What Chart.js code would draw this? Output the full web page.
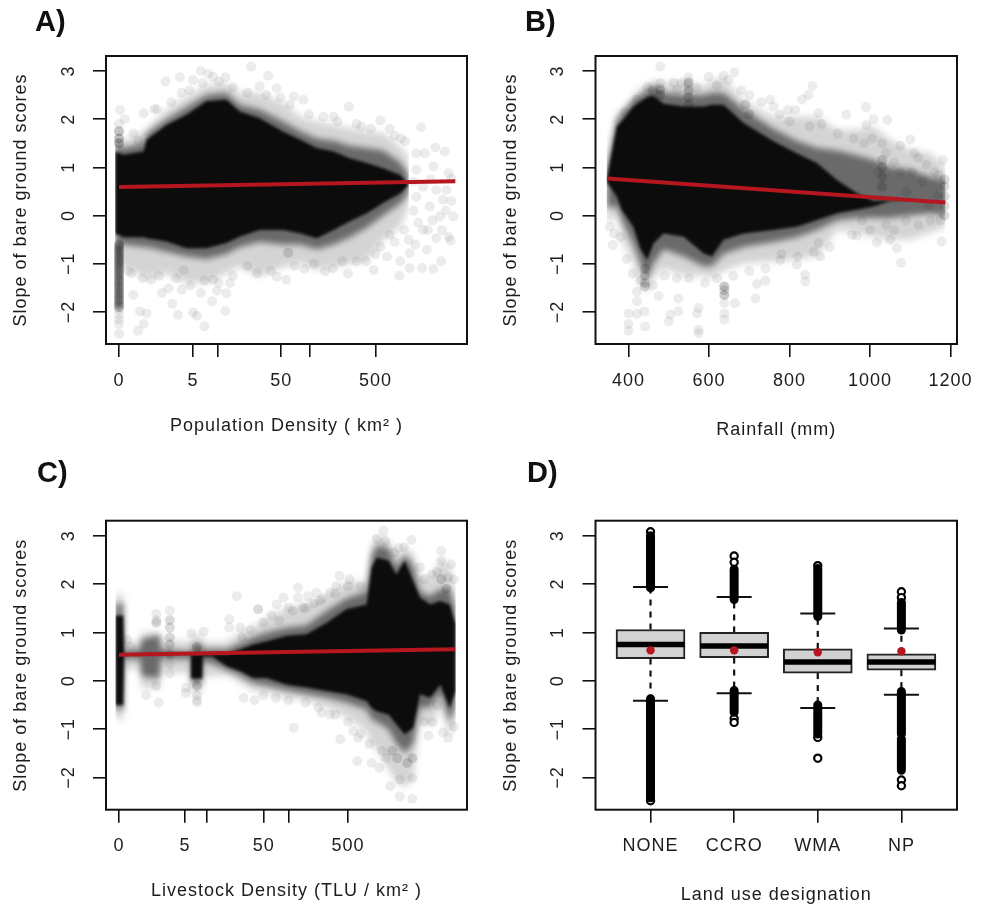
<!DOCTYPE html>
<html>
<head>
<meta charset="utf-8">
<script src="https://cdn.jsdelivr.net/npm/chart.js@4/dist/chart.umd.min.js"></script>
<style>
  html, body { margin: 0; padding: 0; background: #fff; }
  #page { position: relative; width: 981px; height: 908px; overflow: hidden; }
  canvas { position: absolute; filter: blur(0.45px); }
  .tag { position: absolute; font: bold 29px/29px "Liberation Sans", sans-serif; color: #111; }
</style>
</head>
<body>
<div id="page">
  <canvas id="chartA" width="490" height="458" style="left:0;top:0"></canvas>
  <canvas id="chartB" width="491" height="458" style="left:490px;top:0"></canvas>
  <canvas id="chartC" width="490" height="450" style="left:0;top:458px"></canvas>
  <canvas id="chartD" width="491" height="450" style="left:490px;top:458px"></canvas>
  <div class="tag" style="left:35px;top:7px">A)</div>
  <div class="tag" style="left:525px;top:7px">B)</div>
  <div class="tag" style="left:37px;top:458px">C)</div>
  <div class="tag" style="left:527px;top:458px">D)</div>
</div>
<script>
const yTitle = "Slope of bare ground scores";
const yTicks = [-2, -1, 0, 1, 2, 3];

// x axes of A and C are log10(density + 1)
const logTicks = [0, 0.778, 1.041, 1.708, 2.004, 2.7];
const logLabels = ["0", "5", "", "50", "", "500"];

// A: population density
const aGrid = [-0.04, 0.05, 0.26, 0.29, 0.5, 0.71, 0.92, 1.13, 1.27, 1.48, 1.73, 1.91, 2.08, 2.26, 2.43, 2.61, 2.78, 2.96, 3.05];
const aCoreHi = [1.33, 1.26, 1.33, 1.57, 1.88, 2.09, 2.37, 2.4, 2.16, 2.02, 1.74, 1.57, 1.4, 1.33, 1.19, 1.09, 0.98, 0.84, 0.64];
const aCoreLo = [-0.37, -0.45, -0.45, -0.47, -0.54, -0.68, -0.68, -0.57, -0.44, -0.3, -0.3, -0.37, -0.47, -0.3, -0.12, 0.05, 0.26, 0.46, 0.64];
const aMidHi = [1.5, 1.4, 1.5, 1.7, 2.0, 2.25, 2.5, 2.55, 2.3, 2.2, 1.95, 1.75, 1.6, 1.55, 1.45, 1.4, 1.35, 1.1, 0.85];
const aMidLo = [-0.6, -0.6, -0.65, -0.65, -0.75, -0.85, -0.9, -0.8, -0.65, -0.55, -0.6, -0.6, -0.7, -0.6, -0.45, -0.25, 0.0, 0.25, 0.45];
const aHazeHi = [1.7, 1.55, 1.74, 1.81, 2.2, 2.47, 2.71, 2.75, 2.54, 2.54, 2.33, 2.05, 1.95, 1.88, 1.81, 1.74, 1.71, 1.43, 1.22];
const aHazeLo = [-1.06, -1.06, -1.27, -1.3, -1.2, -1.4, -1.4, -1.2, -1.06, -1.27, -1.06, -0.99, -1.13, -1.06, -1.0, -0.92, -0.5, -0.23, 0.19];
const aDark = [[0, -0.6], [0, -0.65], [0, -0.7], [0, -0.75], [0, -0.8], [0, -0.85], [0, -0.9], [0, -0.95], [0, -1.0], [0, -1.05], [0, -1.1], [0, -1.15], [0, -1.2], [0, -1.25], [0, -1.3], [0, -1.35], [0, -1.4], [0, -1.45], [0, -1.5], [0, -1.55], [0, -1.6], [0, -1.65], [0, -1.7], [0, -1.75], [0, -1.8], [0, -1.85], [0, -1.9], [0, 1.5], [0, 1.6], [0, 1.75]];
const aFaint = [[0, -1.95], [0, -2.05], [0, -2.15], [0, -2.25], [0, -2.45], [0, 1.9], [1.39, 3.09], [0.86, 3.0], [0.94, 2.94], [0.99, 2.88], [1.12, 2.87], [1.57, 2.9], [0.64, 2.87], [0.49, 2.78], [0.78, 2.81], [1.48, 2.69], [1.66, 2.64], [1.84, 2.47], [1.94, 2.4], [2.42, 2.26], [3.18, 1.83], [3.33, 1.41], [3.43, 1.33], [3.13, 1.29], [3.22, 1.29], [3.01, 1.54], [2.75, 1.97], [2.55, 1.85], [2.26, 2.05], [0.01, 2.19], [0.06, 2.0], [0.37, 2.21], [0.26, 2.12], [3.47, 0.88], [3.5, 0.77], [3.31, 1.02], [3.13, 0.95], [3.34, 0.53], [3.45, 0.53], [3.52, -0.02], [3.41, 0.33], [3.27, 0.19], [3.13, 0.39], [3.38, -0.02], [3.2, -0.3], [3.47, -0.44], [3.49, -0.52], [3.34, -0.47], [3.24, -0.71], [3.39, -0.95], [3.31, -1.11], [3.19, -1.09], [3.06, -1.09], [2.95, -1.25], [3.06, -0.78], [2.96, -0.95], [2.85, -0.4], [2.82, -0.85], [2.68, -1.13], [2.41, -1.2], [2.17, -1.16], [1.95, -1.11], [1.76, -1.33], [1.66, -1.27], [1.78, -0.78], [1.78, -0.76], [1.17, -1.4], [1.12, -1.98], [0.98, -1.78], [0.9, -2.3], [0.82, -2.08], [0.78, -2.01], [0.62, -2.06], [0.56, -1.83], [0.86, -1.6], [0.15, -1.65], [0.22, -1.99], [0.29, -2.03], [0.26, -2.25], [0.2, -2.39], [0.45, -1.6], [0.52, -1.51], [0.66, -1.54], [1.03, -1.56], [1.13, -1.61], [0.99, -1.33], [0.34, -1.33], [0.13, -1.2], [0.68, -1.13], [3.1, 0.1], [3.2, 0.6], [3.28, 0.75], [3.1, 0.7], [3.15, -0.15], [3.3, -0.1], [3.05, -0.5], [3.0, -0.3], [3.12, -0.6], [3.25, -0.3], [3.4, -0.3], [3.44, 0.1], [3.5, 0.3], [2.9, -0.55], [2.75, -0.65], [2.6, -0.95], [0.4, 2.2], [0.55, 2.35], [0.66, 2.55], [0.74, 2.6], [0.88, 2.75], [1.05, 2.78], [1.2, 2.65], [1.35, 2.55], [1.55, 2.5], [1.7, 2.45], [1.8, 2.3], [2.0, 2.1], [2.15, 2.05], [2.3, 1.95], [2.5, 1.9], [2.65, 1.8], [2.85, 1.8], [2.9, 1.65], [2.97, 1.6], [0.15, 1.7], [0.2, 1.55], [0.1, -1.15], [0.25, -1.3], [0.42, -1.25], [0.6, -1.3], [0.75, -1.45], [0.9, -1.35], [1.05, -1.4], [1.2, -1.25], [1.35, -1.05], [1.45, -1.2], [1.6, -1.15], [1.85, -1.05], [2.05, -1.0], [2.25, -1.1], [2.35, -0.95], [2.5, -0.95], [2.7, -0.8]];
const aFitX = [0, 3.54];
const aFitY = [0.59, 0.71];

// B: rainfall
const bGrid = [346, 371, 383, 412, 429, 446, 462, 487, 537, 586, 607, 636, 686, 760, 818, 868, 918, 967, 1009, 1050, 1100, 1150, 1187];
const bCoreHi = [0.75, 1.85, 1.95, 2.26, 2.36, 2.46, 2.49, 2.32, 2.26, 2.26, 2.3, 2.3, 1.92, 1.54, 1.29, 1.09, 0.74, 0.46, 0.3, 0.32, 0.3, 0.28, 0.27];
const bCoreLo = [0.7, 0.39, 0.12, -0.23, -0.68, -0.92, -0.58, -0.37, -0.44, -0.78, -0.85, -0.5, -0.37, -0.3, -0.23, -0.09, 0.05, 0.12, 0.19, 0.3, 0.3, 0.28, 0.27];
const bMidHi = [0.95, 2.0, 2.1, 2.4, 2.5, 2.6, 2.7, 2.55, 2.5, 2.5, 2.55, 2.55, 2.2, 1.8, 1.55, 1.4, 1.35, 1.25, 1.15, 1.0, 0.95, 0.8, 0.75];
const bMidLo = [0.15, 0.2, -0.1, -0.6, -1.0, -1.3, -1.0, -0.7, -0.85, -1.05, -1.05, -0.8, -0.65, -0.55, -0.45, -0.3, -0.1, -0.05, -0.05, -0.05, 0.0, 0.05, 0.0];
const bHazeHi = [1.05, 2.12, 2.19, 2.47, 2.64, 2.71, 2.81, 2.75, 2.78, 2.68, 2.81, 2.85, 2.4, 2.05, 2.05, 2.05, 1.78, 1.78, 1.85, 1.57, 1.36, 1.29, 1.0];
const bHazeLo = [-0.15, 0.0, -0.5, -1.0, -1.45, -1.6, -1.3, -1.1, -1.25, -1.25, -1.3, -1.15, -1.0, -0.95, -0.9, -0.85, -0.3, -0.35, -0.45, -0.5, -0.5, -0.35, -0.25];
const bDark = [[441, -1.1], [441, -1.25], [441, -1.4], [441, -1.47], [638, -1.47], [638, -1.55], [638, -1.65], [479, 2.5], [479, 2.6], [549, 2.3], [549, 2.45], [549, 2.6], [549, 2.75], [1030, 0.6], [1030, 0.8], [1030, 1.0], [1030, 1.15], [1185, 0.0], [1185, 0.2], [1185, 0.4], [1185, 0.6], [1185, 0.75], [700, 2.1], [690, 2.3]];
const bFaint = [[479, 3.09], [549, 2.87], [549, 2.78], [549, 2.69], [549, 2.57], [663, 2.97], [599, 2.88], [636, 2.9], [648, 2.81], [479, 2.75], [479, 2.64], [446, 2.66], [512, 2.75], [532, 2.75], [857, 2.69], [847, 2.5], [831, 2.41], [752, 2.41], [760, 2.26], [796, 2.19], [814, 2.19], [872, 2.12], [990, 2.25], [941, 2.09], [1009, 2.0], [1043, 1.98], [991, 1.88], [1100, 1.58], [1181, 1.15], [1170, 0.84], [1178, -0.54], [1077, -0.98], [1067, -0.68], [1050, -0.5], [1017, -0.56], [955, -0.4], [967, -0.42], [876, -0.85], [872, -0.57], [839, -1.37], [839, -1.23], [818, -1.02], [777, -0.92], [740, -1.35], [719, -1.42], [715, -1.72], [665, -1.82], [638, -1.47], [638, -1.65], [638, -1.82], [638, -2.03], [638, -2.16], [574, -1.92], [570, -2.03], [574, -2.37], [574, -2.44], [524, -1.99], [504, -2.06], [500, -2.2], [441, -2.3], [439, -1.99], [421, -2.04], [421, -1.78], [421, -1.58], [400, -2.03], [400, -2.25], [400, -2.39], [524, -1.72], [475, -1.67], [361, -0.61], [364, -0.37], [354, -0.23], [1020, 0.9], [1040, 1.3], [1060, 1.1], [1075, 0.9], [1090, 0.5], [1105, 0.9], [1120, 1.2], [1130, 0.7], [1145, 0.2], [1160, 0.9], [1170, 0.4], [1175, -0.1], [1150, -0.1], [1120, -0.2], [1090, -0.1], [1060, -0.3], [1040, -0.2], [1000, -0.3], [980, -0.1], [960, 1.6], [985, 1.5], [1005, 1.6], [1030, 1.5], [1075, 1.45], [1110, 1.3], [1140, 1.05], [920, 1.7], [880, 1.9], [850, 1.85], [800, 1.95], [775, 2.1], [730, 2.35], [700, 2.5], [680, 2.6], [620, 2.7], [570, 2.65], [520, 2.6], [460, 2.6], [420, 2.4], [390, 2.15], [900, -0.65], [860, -0.75], [820, -0.85], [780, -0.8], [740, -1.1], [700, -1.15], [660, -1.25], [620, -1.3], [590, -1.4], [550, -1.3], [520, -1.3], [490, -1.25], [460, -1.45], [430, -1.35], [410, -1.2], [395, -0.9], [380, -0.45]];
const bFitX = [348, 1187];
const bFitY = [0.77, 0.27];

// C: livestock density
const cGrid = [-0.04, 0.05, 0.06, 0.25, 0.26, 0.48, 0.49, 0.85, 0.86, 0.98, 0.99, 1.1, 1.27, 1.43, 1.58, 1.74, 1.98, 2.21, 2.45, 2.68, 2.92, 2.98, 3.04, 3.18, 3.27, 3.37, 3.47, 3.55, 3.67, 3.79, 3.9, 3.97];
const cCoreHi = [1.35, 1.35, 0.56, 0.56, 0.56, 0.56, 0.56, 0.56, 0.55, 0.55, 0.56, 0.56, 0.55, 0.65, 0.75, 0.82, 0.93, 0.96, 1.2, 1.48, 1.58, 2.34, 2.55, 2.48, 2.2, 2.48, 2.06, 1.72, 1.58, 1.65, 1.58, 1.17];
const cCoreLo = [-0.5, -0.5, 0.55, 0.55, 0.55, 0.55, 0.55, 0.55, 0.05, 0.05, 0.5, 0.5, 0.3, 0.2, 0.06, 0.06, -0.08, -0.14, -0.21, -0.28, -0.42, -0.56, -0.63, -0.7, -0.9, -1.11, -0.97, -0.28, -0.35, -0.08, -0.56, -0.21];
const cMidHi = [1.6, 1.6, 0.6, 0.65, 0.85, 0.95, 0.65, 0.6, 0.75, 0.75, 0.65, 0.65, 0.65, 0.78, 0.9, 1.0, 1.1, 1.15, 1.45, 1.7, 1.85, 2.6, 2.8, 2.75, 2.35, 2.6, 2.4, 1.85, 1.75, 1.9, 1.9, 1.5];
const cMidLo = [-0.6, -0.6, 0.45, 0.45, 0.1, 0.05, 0.45, 0.45, -0.05, -0.05, 0.4, 0.35, 0.22, 0.1, -0.05, -0.1, -0.2, -0.28, -0.35, -0.45, -0.6, -0.8, -0.85, -1.0, -1.3, -1.5, -1.3, -0.55, -0.55, -0.25, -0.85, -0.55];
const cHazeHi = [1.8, 1.8, 0.8, 0.8, 1.0, 1.0, 0.85, 0.8, 0.95, 0.95, 0.8, 0.8, 0.8, 1.0, 1.1, 1.3, 1.5, 1.6, 1.75, 2.05, 2.05, 2.8, 3.0, 2.9, 2.6, 2.75, 2.65, 2.15, 2.1, 2.5, 2.4, 1.8];
const cHazeLo = [-0.8, -0.8, 0.25, 0.25, -0.15, -0.15, 0.2, 0.15, -0.25, -0.25, 0.1, 0.1, 0.12, -0.05, -0.2, -0.25, -0.35, -0.4, -0.55, -0.75, -1.05, -1.35, -1.4, -1.85, -2.1, -2.2, -2.05, -0.8, -0.95, -0.55, -1.15, -0.9];
const cDark = [[0.6, 1.25], [0.6, 1.1], [0.6, 0.9], [0.6, 0.75], [0.6, 0.55], [0.44, 1.2], [0.92, 0.7], [0.92, -0.1], [3.46, -1.6], [3.4, -1.7], [3.28, -1.6], [3.22, -1.45], [3.8, 2.1], [3.86, 1.9]];
const cFaint = [[0.6, 1.45], [0.6, 0.35], [0.6, 0.15], [0.44, 1.38], [0.44, 1.25], [0.44, -0.1], [0.32, -0.3], [0.47, -0.45], [0.92, -0.3], [0.92, -0.4], [0.92, -0.45], [1.0, 1.02], [0.85, 0.98], [0.79, -0.15], [0.79, -0.25], [0.1, 0.85], [0.14, 0.7], [1.39, 1.75], [1.3, 1.27], [1.3, 1.1], [1.43, 1.1], [1.64, 1.48], [1.64, 1.48], [1.86, 1.58], [1.94, 1.72], [2.0, 1.51], [1.89, 1.24], [2.11, 1.93], [2.11, 1.72], [2.23, 1.75], [2.33, 1.82], [2.49, 1.82], [2.6, 2.17], [2.72, 2.1], [2.56, 1.96], [2.17, 1.51], [2.37, 1.65], [2.06, -0.97], [2.61, -1.21], [2.81, -1.66], [2.98, -1.7], [3.07, -1.8], [2.76, -1.04], [2.82, -1.18], [2.39, -0.66], [2.49, -0.7], [1.47, -0.35], [1.6, -0.4], [3.12, 3.1], [3.04, 2.93], [3.14, 2.89], [3.45, 2.91], [3.36, 2.76], [3.8, 2.69], [3.8, 2.48], [3.92, 2.41], [3.69, 2.2], [3.88, 2.13], [3.46, -2.44], [3.31, -2.39], [3.2, -2.18], [3.31, -2.04], [3.46, -2.01], [3.65, -1.13], [3.88, -1.18], [3.82, -1.07], [1.45, 0.9], [1.55, 1.05], [1.7, 1.2], [1.8, 1.35], [2.05, 1.45], [2.2, 1.5], [2.3, 1.6], [2.4, 1.7], [2.55, 1.8], [2.7, 1.95], [2.85, 1.95], [1.7, -0.3], [1.85, -0.35], [2.0, -0.4], [2.2, -0.45], [2.35, -0.55], [2.55, -0.7], [2.7, -0.85], [2.85, -1.1], [2.95, -1.3], [3.1, -1.45], [3.15, -1.6], [3.6, -0.85], [3.7, -0.85], [3.75, -0.5], [3.95, -0.95], [3.6, 2.1], [3.75, 2.25], [3.95, 2.1], [3.25, 2.65], [3.3, 2.75], [3.55, 2.35]];
const cFitX = [0, 3.96];
const cFitY = [0.54, 0.65];

// D: land use designation
const dCats = ["NONE", "CCRO", "WMA", "NP"];
const dPos = [1, 2, 3, 4];
const dQ1 = [0.46, 0.48, 0.16, 0.22];
const dMedian = [0.75, 0.72, 0.39, 0.39];
const dQ3 = [1.06, 1.0, 0.66, 0.56];
const dWhiskLo = [-0.41, -0.26, -0.56, -0.29];
const dWhiskHi = [1.94, 1.73, 1.39, 1.08];
const dMean = [0.63, 0.63, 0.59, 0.61];
// overplotted outlier runs, [category, from, to]
const dRuns = [[1, 1.92, 3.0], [1, -0.37, -2.42], [2, 1.68, 2.3], [2, -0.2, -0.65], [3, 1.33, 2.32], [3, -0.5, -1.1], [4, 1.05, 1.62], [4, -0.22, -1.1], [4, -1.2, -1.85]];
const dOutliers = [[1, 3.08], [1, -2.48], [2, 2.58], [2, 2.45], [2, -0.78], [2, -0.86], [3, 2.38], [3, -1.17], [3, -1.6], [4, 1.84], [4, 1.72], [4, -2.05], [4, -2.17]];

const ink = "#1c1c1c";
const red = "#b5161f";
const font = { family: '"Liberation Sans", sans-serif', size: 18 };

const frame = {
  id: "frame",
  beforeDraw(chart) {
    chart.ctx.letterSpacing = "1px";
  },
  afterDraw(chart) {
    const a = chart.chartArea;
    const ctx = chart.ctx;
    ctx.save();
    ctx.lineWidth = 2;
    ctx.strokeStyle = "#111";
    ctx.strokeRect(a.left, a.top, a.right - a.left, a.bottom - a.top);
    ctx.restore();
  },
};

// datasets are drawn last to first, each one sets the blur for the next
const softEdges = {
  id: "softEdges",
  beforeDatasetsDraw(chart) {
    const sets = chart.data.datasets;
    chart.ctx.filter = sets[sets.length - 1].blur || "none";
  },
  afterDatasetDraw(chart, args) {
    const next = chart.data.datasets[args.index - 1];
    chart.ctx.filter = (next && next.blur) || "none";
  },
};

function axes(o) {
  return {
    x: {
      type: "linear",
      offset: false,
      min: o.xMin,
      max: o.xMax,
      afterFit: (s) => {
        s.height = o.xHeight;
        s.paddingLeft = 0;
        s.paddingRight = 0;
      },
      afterBuildTicks: (s) => { s.ticks = o.xTicks.map((v) => ({ value: v })); },
      grid: { offset: false, drawOnChartArea: false, color: "#111", lineWidth: 1.6, tickLength: 13 },
      border: { display: false },
      ticks: {
        color: ink,
        font,
        padding: 13,
        autoSkip: false,
        maxRotation: 0,
        callback: (v) => o.xLabels[o.xTicks.indexOf(v)],
      },
      title: { display: true, text: o.xTitle, color: ink, font, padding: { top: 0, bottom: o.titleGap } },
    },
    y: {
      type: "linear",
      min: -2.665,
      max: 3.31,
      afterFit: (s) => {
        s.width = o.yWidth;
        s.paddingTop = 0;
        s.paddingBottom = 0;
      },
      afterBuildTicks: (s) => { s.ticks = yTicks.map((v) => ({ value: v })); },
      grid: { drawOnChartArea: false, color: "#111", lineWidth: 1.6, tickLength: 13 },
      border: { display: false },
      ticks: {
        color: ink,
        font,
        padding: 14,
        minRotation: 90,
        maxRotation: 90,
        crossAlign: "center",
        callback: (v) => (v < 0 ? "\u2212" + Math.abs(v) : String(v)),
      },
      title: { display: true, text: yTitle, color: ink, font, padding: { top: 10, bottom: 0 } },
    },
  };
}

function band(x, hi, lo, color, blur) {
  const line = (vals) => x.map((v, i) => ({ x: v, y: vals[i] }));
  return [
    { data: line(hi), fill: "+1", backgroundColor: color, borderWidth: 0, pointRadius: 0, tension: 0, blur },
    { data: line(lo), fill: false, borderWidth: 0, pointRadius: 0, tension: 0, blur },
  ];
}

function dots(pairs, color) {
  return {
    data: pairs.map((p) => ({ x: p[0], y: p[1] })),
    showLine: false,
    pointRadius: 5,
    pointBackgroundColor: color,
    pointBorderWidth: 0,
    blur: "blur(0.6px)",
  };
}

function scatterPanel(id, o) {
  const fit = o.fitX.map((v, i) => ({ x: v, y: o.fitY[i] }));
  new Chart(document.getElementById(id), {
    type: "line",
    data: {
      datasets: [
        { data: fit, borderColor: red, borderWidth: 4, pointRadius: 0, tension: 0 },
        dots(o.dark, o.darkColor),
        ...band(o.grid, o.coreHi, o.coreLo, "#0c0c0c", "blur(1.5px)"),
        ...band(o.grid, o.midHi, o.midLo, "rgba(0,0,0,0.5)", "blur(3px)"),
        dots(o.faint, "rgba(0,0,0,0.075)"),
        ...band(o.grid, o.hazeHi, o.hazeLo, "rgba(0,0,0,0.17)", "blur(3.5px)"),
      ],
    },
    options: {
      responsive: false,
      animation: false,
      layout: { autoPadding: false, padding: o.padding },
      plugins: { legend: { display: false }, tooltip: { enabled: false } },
      scales: axes(o),
    },
    plugins: [frame, softEdges],
  });
}

scatterPanel("chartA", {
  grid: aGrid, coreHi: aCoreHi, coreLo: aCoreLo, midHi: aMidHi, midLo: aMidLo, hazeHi: aHazeHi, hazeLo: aHazeLo,
  dark: aDark, darkColor: "rgba(0,0,0,0.22)", faint: aFaint, fitX: aFitX, fitY: aFitY,
  xMin: -0.137, xMax: 3.663, xTicks: logTicks, xLabels: logLabels,
  xTitle: "Population Density ( km\u00b2 )", titleGap: 21,
  xHeight: 114, yWidth: 106, padding: { top: 56, right: 23, left: 0, bottom: 0 },
});

scatterPanel("chartB", {
  grid: bGrid, coreHi: bCoreHi, coreLo: bCoreLo, midHi: bMidHi, midLo: bMidLo, hazeHi: bHazeHi, hazeLo: bHazeLo,
  dark: bDark, darkColor: "rgba(0,0,0,0.14)", faint: bFaint, fitX: bFitX, fitY: bFitY,
  xMin: 318, xMax: 1216, xTicks: [400, 600, 800, 1000, 1200], xLabels: ["400", "600", "800", "1000", "1200"],
  xTitle: "Rainfall (mm)", titleGap: 17,
  xHeight: 114, yWidth: 105.5, padding: { top: 56, right: 24, left: 0, bottom: 0 },
});

scatterPanel("chartC", {
  grid: cGrid, coreHi: cCoreHi, coreLo: cCoreLo, midHi: cMidHi, midLo: cMidLo, hazeHi: cHazeHi, hazeLo: cHazeLo,
  dark: cDark, darkColor: "rgba(0,0,0,0.14)", faint: cFaint, fitX: cFitX, fitY: cFitY,
  xMin: -0.153, xMax: 4.104, xTicks: logTicks, xLabels: logLabels,
  xTitle: "Livestock Density (TLU / km\u00b2 )", titleGap: 6,
  xHeight: 98.3, yWidth: 106, padding: { top: 62.7, right: 23, left: 0, bottom: 0 },
});

// box plot panel, built from floating bars and line datasets
const boxData = dPos.map((p, i) => ({ x: p, y: [dQ1[i], dQ3[i]] }));
const pts = (vals) => dPos.map((p, i) => ({ x: p, y: vals[i] }));
const whiskers = [];
dPos.forEach((p, i) => {
  [[dQ3[i], dWhiskHi[i]], [dQ1[i], dWhiskLo[i]]].forEach((w) => {
    whiskers.push({
      type: "line",
      order: 5,
      data: [{ x: p, y: w[0] }, { x: p, y: w[1] }],
      borderColor: "#111",
      borderWidth: 2.2,
      borderDash: [6, 6],
      pointRadius: 0,
    });
  });
});
const runs = dRuns.map((r) => ({
  type: "line",
  order: 2,
  data: [{ x: r[0], y: r[1] }, { x: r[0], y: r[2] }],
  borderColor: "#000",
  borderWidth: 9,
  borderCapStyle: "round",
  pointRadius: 0,
}));

new Chart(document.getElementById("chartD"), {
  type: "bar",
  data: {
    datasets: [
      { order: 4, data: boxData, backgroundColor: "#d2d2d2", borderColor: "#222", borderWidth: 2, borderSkipped: false, barThickness: 69 },
      { type: "line", order: 3, data: pts(dMedian), showLine: false, pointStyle: "line", pointRadius: 34, pointBorderWidth: 5.5, pointBorderColor: "#000" },
      ...whiskers,
      { type: "line", order: 3, data: pts(dWhiskHi), showLine: false, pointStyle: "line", pointRadius: 17.5, pointBorderWidth: 2, pointBorderColor: "#111" },
      { type: "line", order: 3, data: pts(dWhiskLo), showLine: false, pointStyle: "line", pointRadius: 17.5, pointBorderWidth: 2, pointBorderColor: "#111" },
      ...runs,
      { type: "line", order: 2, data: dOutliers.map((o) => ({ x: o[0], y: o[1] })), showLine: false, pointRadius: 3.6, pointBorderWidth: 2.2, pointBorderColor: "#000", pointBackgroundColor: "#fff" },
      { type: "line", order: 1, data: pts(dMean), showLine: false, pointRadius: 4.2, pointBorderWidth: 0, pointBackgroundColor: red },
    ],
  },
  options: {
    responsive: false,
    animation: false,
    layout: { autoPadding: false, padding: { top: 62.7, right: 24, left: 0, bottom: 0 } },
    plugins: { legend: { display: false }, tooltip: { enabled: false } },
    scales: axes({
      xMin: 0.342, xMax: 4.665, xTicks: dPos, xLabels: dCats,
      xTitle: "Land use designation", titleGap: 2,
      xHeight: 98.3, yWidth: 105.5,
    }),
  },
  plugins: [frame],
});
</script>
</body>
</html>
